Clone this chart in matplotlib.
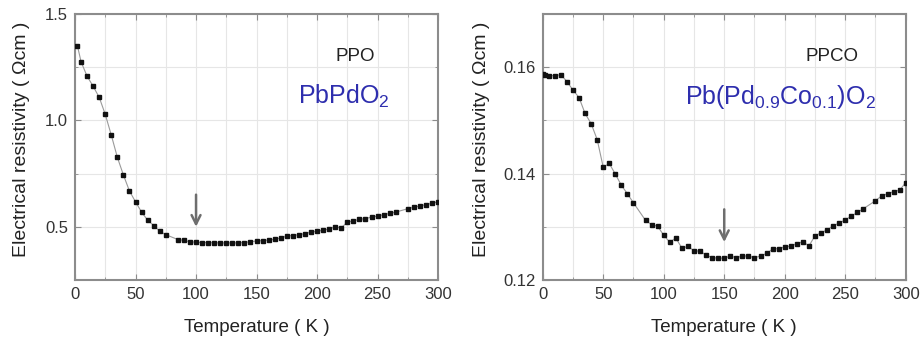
import matplotlib
matplotlib.use("Agg")
import matplotlib.pyplot as plt
from matplotlib.ticker import MultipleLocator

plt.rcParams['font.family'] = ['Liberation Sans', 'DejaVu Sans']
plt.rcParams['mathtext.fontset'] = 'custom'
plt.rcParams['mathtext.rm'] = 'Liberation Sans'
plt.rcParams['mathtext.it'] = 'Liberation Sans'

# ---- Data: PbPdO2 (PPO) ----
ppo_T = [2, 5, 10, 15, 20, 25, 30, 35, 40, 45, 50, 55, 60, 65, 70, 75, 85, 90, 95,
         100, 105, 110, 115, 120, 125, 130, 135, 140, 145, 150, 155, 160, 165, 170,
         175, 180, 185, 190, 195, 200, 205, 210, 215, 220, 225, 230, 235, 240, 245,
         250, 255, 260, 265, 275, 280, 285, 290, 295, 300]
ppo_rho = [1.350, 1.275, 1.207, 1.160, 1.108, 1.028, 0.930, 0.826, 0.743, 0.668,
           0.617, 0.569, 0.531, 0.506, 0.479, 0.463, 0.440, 0.436, 0.430,
           0.427, 0.426, 0.425, 0.425, 0.424, 0.424, 0.424, 0.424, 0.426, 0.430,
           0.433, 0.435, 0.438, 0.441, 0.448, 0.456, 0.459, 0.463, 0.468, 0.475,
           0.479, 0.484, 0.490, 0.500, 0.495, 0.522, 0.528, 0.535, 0.538, 0.546,
           0.550, 0.557, 0.563, 0.569, 0.585, 0.592, 0.598, 0.604, 0.611, 0.617]

# ---- Data: Pb(Pd0.9Co0.1)O2 (PPCO) ----
ppco_T = [0.5, 2, 5, 10, 15, 20, 25, 30, 35, 40, 45, 50, 55, 60, 65, 70, 75, 85, 90,
          95, 100, 105, 110, 115, 120, 125, 130, 135, 140, 145, 150, 155, 160, 165,
          170, 175, 180, 185, 190, 195, 200, 205, 210, 215, 220, 225, 230, 235, 240,
          245, 250, 255, 260, 265, 275, 280, 285, 290, 295, 300]
ppco_rho = [0.1587, 0.1586, 0.1584, 0.1584, 0.1586, 0.1573, 0.1557, 0.1543, 0.1513,
            0.1494, 0.1464, 0.1412, 0.1419, 0.1399, 0.1378, 0.1362, 0.1345, 0.1312,
            0.1304, 0.1301, 0.1284, 0.1271, 0.1279, 0.1260, 0.1263, 0.1255, 0.1254,
            0.1247, 0.1242, 0.1241, 0.1241, 0.1245, 0.1242, 0.1245, 0.1245, 0.1242,
            0.1245, 0.1250, 0.1258, 0.1259, 0.1262, 0.1264, 0.1268, 0.1272, 0.1264,
            0.1283, 0.1289, 0.1294, 0.1302, 0.1307, 0.1313, 0.1320, 0.1327, 0.1334,
            0.1349, 0.1358, 0.1362, 0.1366, 0.1369, 0.1383]

xticks = [0, 50, 100, 150, 200, 250, 300]
ppo_yticks = [0.5, 1.0, 1.5]
ppco_yticks = [0.12, 0.14, 0.16]

frame_col = '#8c8c8c'
text_col = '#333333'
blue = '#2e2eae'
arrow_col = '#6e6e6e'

fig = plt.figure(figsize=(9.23, 3.43), dpi=100)
ax1 = fig.add_axes([0.0813, 0.1837, 0.3933, 0.7755])
ax2 = fig.add_axes([0.588, 0.1837, 0.3933, 0.7755])


def style(ax, xmaj, xmin, ymaj, ymin, ylab_x):
    ax.xaxis.set_major_locator(MultipleLocator(xmaj))
    ax.xaxis.set_minor_locator(MultipleLocator(xmin))
    ax.yaxis.set_major_locator(MultipleLocator(ymaj))
    ax.yaxis.set_minor_locator(MultipleLocator(ymin))
    ax.grid(True, which='both', color='#e6e6e6', linewidth=0.8)
    ax.set_axisbelow(True)
    for s in ax.spines.values():
        s.set_color(frame_col)
        s.set_linewidth(1.5)
    ax.tick_params(which='both', direction='in', top=True, right=True,
                   color=frame_col, labelsize=12, labelcolor=text_col, pad=5)
    ax.tick_params(which='major', length=4)
    ax.tick_params(which='minor', length=2.5)
    ax.set_xlabel('Temperature ( K )', fontsize=13.5, color='#222222')
    ax.set_ylabel('Electrical resistivity ( Ωcm )', fontsize=14, color='#222222')
    ax.xaxis.set_label_coords(0.50, -0.145)
    ax.yaxis.set_label_coords(ylab_x, 0.53)


# Left panel
ax1.plot(ppo_T, ppo_rho, '-', color='#9a9a9a', linewidth=0.8, zorder=2)
ax1.plot(ppo_T, ppo_rho, 's', color='#111111', markersize=2.4, zorder=3, linestyle='none')
ax1.set_xlim(0, 300)
ax1.set_ylim(0.25, 1.5)
style(ax1, 50, 25, 0.5, 0.25, -0.124)
ax1.set_xticks(xticks)
ax1.set_yticks(ppo_yticks)
ax1.set_yticklabels(['0.5', '1.0', '1.5'])
ax1.text(0.771, 0.839, 'PPO', transform=ax1.transAxes, fontsize=13.5, color='#222222',
         ha='center', va='center')
ax1.text(0.741, 0.662, r'PbPdO$_2$', transform=ax1.transAxes, fontsize=18, color=blue,
         ha='center', va='baseline')
ax1.annotate('', xy=(100, 0.487), xytext=(100, 0.664),
             arrowprops=dict(arrowstyle='->', color=arrow_col, lw=1.8,
                             mutation_scale=16))

# Right panel
ax2.plot(ppco_T, ppco_rho, '-', color='#9a9a9a', linewidth=0.8, zorder=2)
ax2.plot(ppco_T, ppco_rho, 's', color='#111111', markersize=2.4, zorder=3, linestyle='none')
ax2.set_xlim(0, 300)
ax2.set_ylim(0.12, 0.17)
style(ax2, 50, 25, 0.02, 0.01, -0.145)
ax2.set_xticks(xticks)
ax2.set_yticks(ppco_yticks)
ax2.text(0.796, 0.839, 'PPCO', transform=ax2.transAxes, fontsize=13.5, color='#222222',
         ha='center', va='center')
ax2.text(0.656, 0.662, r'Pb(Pd$_{0.9}$Co$_{0.1}$)O$_2$', transform=ax2.transAxes,
         fontsize=18, color=blue, ha='center', va='baseline')
ax2.annotate('', xy=(150, 0.1266), xytext=(150, 0.1338),
             arrowprops=dict(arrowstyle='->', color=arrow_col, lw=1.8,
                             mutation_scale=16))

fig.savefig('out.png', dpi=100)
